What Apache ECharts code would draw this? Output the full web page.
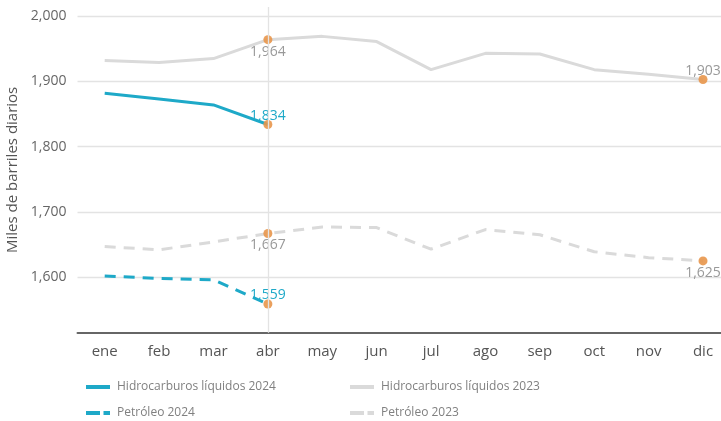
<!DOCTYPE html>
<html><head><meta charset="utf-8">
<script src="https://cdn.jsdelivr.net/npm/echarts@6/dist/echarts.min.js"></script>
<style>html,body{margin:0;padding:0;background:#fff}#c{width:721px;height:421px}</style>
</head><body><div id="c"></div>
<script>
const months = ['ene','feb','mar','abr','may','jun','jul','ago','sep','oct','nov','dic'];
const hidro2024 = [1882, 1873, 1864, 1834];
const hidro2023 = [1932, 1929, 1935, 1964, 1969, 1961, 1918, 1943, 1942, 1918, 1911, 1903];
const petro2024 = [1602, 1598, 1596, 1559];
const petro2023 = [1647, 1642, 1654, 1667, 1677, 1676, 1643, 1673, 1665, 1639, 1630, 1625];
const yTicks = [1600, 1700, 1800, 1900, 2000];
const highlight2024 = [3];
const highlight2023 = [3, 11];

const FONT = 'Open Sans';
const TEAL = '#1ea9c8';
const GRAY = '#dadada';
const DOT = 'rgba(232,150,75,0.9)';
const fmt = v => v.toLocaleString('en-US');

function items(arr, hl, pos, color) {
  return arr.map((v, i) => hl.includes(i) ? {
    value: v, symbol: 'circle', symbolSize: 9,
    itemStyle: {color: DOT},
    label: {show: true, position: pos, formatter: p => fmt(p.value), color: color,
      fontFamily: FONT, fontSize: 14, distance: pos === 'top' ? -3 : 0.5}
  } : {value: v, symbol: 'none'});
}

const legendBase = {
  orient: 'vertical', top: 381, height: 60, padding: 0, itemWidth: 24, itemHeight: 12, itemGap: 14,
  itemStyle: {opacity: 0},
  lineStyle: {width: 4},
  textStyle: {color: '#808080', fontFamily: FONT, fontSize: 12, padding: [0, 0, 0, 2]}
};
const dashedIcon = {type: [14, 3.5], width: 4};

const chart = echarts.init(document.getElementById('c'));
chart.setOption({
  animation: false,
  grid: {left: 77.5, width: 652.7, top: 7, bottom: 88.3, outerBoundsMode: 'none'},
  xAxis: {
    type: 'category', data: months, boundaryGap: true,
    axisLine: {lineStyle: {color: '#666', width: 2}},
    axisTick: {show: false},
    axisLabel: {color: '#555', fontFamily: FONT, fontSize: 15, margin: 12}
  },
  yAxis: {
    type: 'value', min: 1515, max: 2014,
    name: 'Miles de barriles diarios', nameLocation: 'middle', nameGap: 54,
    nameTextStyle: {color: '#555', fontFamily: FONT, fontSize: 15},
    axisLine: {show: false}, axisTick: {show: false, customValues: yTicks},
    axisLabel: {customValues: yTicks, formatter: v => fmt(v), color: '#666', fontFamily: FONT, fontSize: 14, margin: 11},
    splitLine: {lineStyle: {color: '#e3e3e3', width: 1.3}}
  },
  legend: [
    Object.assign({left: 84, data: ['Hidrocarburos líquidos 2024', {name: 'Petróleo 2024', lineStyle: dashedIcon}]}, legendBase),
    Object.assign({left: 348, data: ['Hidrocarburos líquidos 2023', {name: 'Petróleo 2023', lineStyle: dashedIcon}]}, legendBase)
  ],
  series: [
    {name: 'Hidrocarburos líquidos 2023', type: 'line', z: 2, color: GRAY, symbol: 'none',
     lineStyle: {color: GRAY, width: 3}, itemStyle: {color: GRAY},
     data: (() => { const d = items(hidro2023, highlight2023, 'bottom', '#999');
       d[11].label.position = 'top'; d[11].label.distance = -3; return d; })(),
     markLine: {silent: true, symbol: 'none', label: {show: false},
       lineStyle: {color: '#e3e3e3', type: 'solid', width: 1.3},
       data: [{xAxis: 'abr'}]}},
    {name: 'Petróleo 2023', type: 'line', z: 2, color: GRAY, symbol: 'none',
     lineStyle: {color: GRAY, width: 3, type: [11, 8]}, itemStyle: {color: GRAY},
     data: items(petro2023, highlight2023, 'bottom', '#999')},
    {name: 'Hidrocarburos líquidos 2024', type: 'line', z: 3, color: TEAL, symbol: 'none',
     lineStyle: {color: TEAL, width: 3}, itemStyle: {color: TEAL},
     data: items(hidro2024, highlight2024, 'top', TEAL)},
    {name: 'Petróleo 2024', type: 'line', z: 3, color: TEAL, symbol: 'none',
     lineStyle: {color: TEAL, width: 3, type: [11, 8]}, itemStyle: {color: TEAL},
     data: items(petro2024, highlight2024, 'top', TEAL)}
  ]
});
</script></body></html>
